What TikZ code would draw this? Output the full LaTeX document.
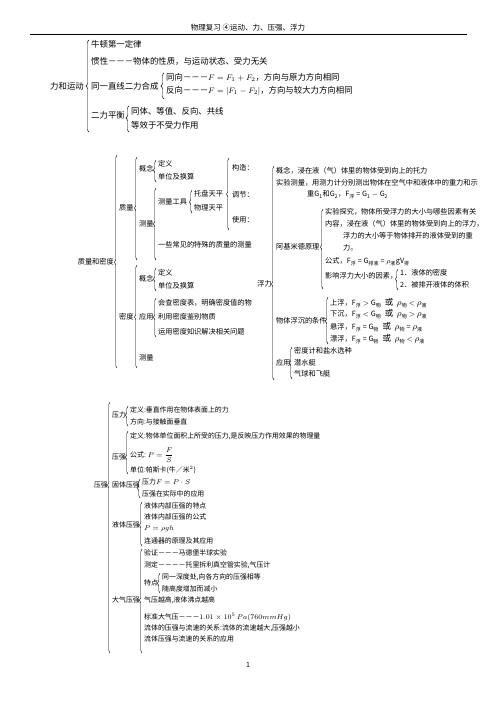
\documentclass[tikz,border=0pt]{standalone}
\usepackage[no-math]{fontspec}
\setmainfont{Noto Sans CJK SC}
\usetikzlibrary{decorations.pathreplacing}
\tikzset{
  lbl/.style={anchor=west,inner sep=0pt,font=\fontsize{7.2}{8}\selectfont},
  lblbig/.style={lbl,font=\fontsize{8.4}{10}\selectfont},
  lblsm/.style={lbl,font=\fontsize{6.9}{8}\selectfont},
  brc/.style={decorate,line width=0.45pt},
}
\def\mybrace#1#2#3#4#5{
  % 1: x
  % 2: y top
  % 3: y bottom
  % 4: y tip
  % 5: amplitude
  \pgfmathsetmacro\braceasp{(#3-#4)/(#3-#2)}
  \draw[brc,decoration={brace,amplitude=#5,aspect=\braceasp}] (#1,#3) -- (#1,#2);
}
\def\rhosub#1{{\fontsize{9.5}{9}\selectfont$\rho$}\textsubscript{#1}}
\def\huo{{\fontsize{8.5}{9}\selectfont 或}}
\begin{document}
\begin{tikzpicture}[x=1pt,y=-1pt]
  \useasboundingbox (0,0) rectangle (496,702);
  % head line
  \node[font=\fontsize{7.5}{8}\selectfont] (title) at (248,28) {物理复习 ④运动、力、压强、浮力};
  \draw[line width=0.8pt] (30,34) -- (467,34);

  % force and motion
  \node[lblbig,anchor=east] (motion) at (84,86) {力和运动};
  \mybrace{89}{40}{132}{86}{3pt}
  \node[lblbig] (newton) at (91,44) {牛顿第一定律};
  \node[lblbig] (inertia) at (91,61) {惯性－－－物体的性质，与运动状态、受力无关};
  \node[lblbig] (combine) at (91,86) {同一直线二力合成};
  \mybrace{164}{73}{99}{86}{3pt}
  \node[lblbig] (same) at (166,77) {同向－－－$F=F_1+F_2$，方向与原力方向相同};
  \node[lblbig] (oppo) at (166,91) {反向－－－$F=|F_1-F_2|$，方向与较大力方向相同};
  \node[lblbig] (balance) at (91,115) {二力平衡};
  \mybrace{129}{106}{132}{118}{3pt}
  \node[lblbig] (bal1) at (131,111) {同体、等值、反向、共线};
  \node[lblbig] (bal2) at (131,125) {等效于不受力作用};

  % mass and density
  \node[lbl,anchor=east] (massdens) at (114,262) {质量和密度};
  \mybrace{117}{155}{368}{262}{2.5pt}
  \node[lbl] (mass) at (119,208) {质量};
  \mybrace{137}{157}{260}{208}{2.5pt}
  \node[lbl] (mconcept) at (139,169) {概念};
  \mybrace{156}{160}{182}{170}{2.5pt}
  \node[lbl] (mdef) at (158,164) {定义};
  \node[lbl] (munit) at (158,177) {单位及换算};
  \node[lbl] (mmeasure) at (139,224) {测量};
  \mybrace{156}{188}{260}{224}{2.5pt}
  \node[lbl] (mtool) at (158,202) {测量工具};
  \mybrace{192}{190}{213}{202}{2.5pt}
  \node[lbl] (tray) at (194,194) {托盘天平};
  \node[lbl] (phys) at (194,208) {物理天平};
  \mybrace{229}{158}{230}{194}{2.5pt}
  \node[lbl] (build) at (232,168) {构造：};
  \node[lbl] (adjust) at (232,195) {调节：};
  \node[lbl] (useit) at (232,220) {使用：};
  \node[lbl] (special) at (158,245) {一些常见的特殊的质量的测量};
  \node[lbl] (dens) at (119,317) {密度};
  \mybrace{137}{265}{368}{317}{2.5pt}
  \node[lbl] (dconcept) at (139,279) {概念};
  \mybrace{156}{268}{291}{279}{2.5pt}
  \node[lbl] (ddef) at (158,273) {定义};
  \node[lbl] (dunit) at (158,286) {单位及换算};
  \node[lbl] (dapply) at (139,317) {应用};
  \mybrace{156}{298}{337}{317}{2.5pt}
  \node[lbl] (dapp1) at (158,303) {会查密度表，明确密度值的物};
  \node[lbl] (dapp2) at (158,317) {利用密度鉴别物质};
  \node[lbl] (dapp3) at (158,332) {运用密度知识解决相关问题};
  \node[lbl] (dmeasure) at (139,358) {测量};

  % buoyancy
  \node[lbl,anchor=east] (buoy) at (272,284) {浮力};
  \mybrace{274}{166}{380}{284}{2.5pt}
  \node[lbl] (bconcept) at (276,171) {概念，浸在液（气）体里的物体受到向上的托力};
  \node[lbl] (bexp) at (276,183) {实验测量，用测力计分别测出物体在空气中和液体中的重力和示};
  \node[lbl] (bexp2) at (307,195) {重G\textsubscript{1}和G\textsubscript{2}，F\textsubscript{浮} = G\textsubscript{1} $-$ G\textsubscript{2}};
  \node[lbl] (archi) at (276,247) {阿基米德原理};
  \mybrace{323}{209}{289}{247}{2.5pt}
  \node[lbl] (a1) at (325,212) {实验探究，物体所受浮力的大小与哪些因素有关};
  \node[lbl] (a2) at (325,224) {内容，浸在液（气）体里的物体受到向上的浮力，};
  \node[lbl] (a3) at (343,236) {浮力的大小等于物体排开的液体受到的重};
  \node[lbl] (a4) at (343,248) {力。};
  \node[lbl] (a5) at (325,262) {公式，F\textsubscript{浮} = G\textsubscript{排液} = $\rho$\textsubscript{液}gV\textsubscript{排}};
  \node[lbl] (factor) at (325,276) {影响浮力大小的因素，};
  \mybrace{398}{269}{290}{279}{2.5pt}
  \node[lbl] (f1) at (400,273) {1．液体的密度};
  \node[lbl] (f2) at (400,285) {2．被排开液体的体积};
  \node[lbl] (float) at (276,321) {物体浮沉的条件};
  \mybrace{328}{297}{344}{321}{2.5pt}
  \node[lbl] (fl1) at (330,303) {上浮，F\textsubscript{浮} $>$ G\textsubscript{物}\enspace\huo\enspace\rhosub{物} $<$ \rhosub{液}};
  \node[lbl] (fl2) at (330,314) {下沉，F\textsubscript{浮} $<$ G\textsubscript{物}\enspace\huo\enspace\rhosub{物} $>$ \rhosub{液}};
  \node[lbl] (fl3) at (330,327) {悬浮，F\textsubscript{浮} = G\textsubscript{物}\enspace\huo\enspace\rhosub{物} = \rhosub{液}};
  \node[lbl] (fl4) at (330,339) {漂浮，F\textsubscript{浮} = G\textsubscript{物}\enspace\huo\enspace\rhosub{物} $<$ \rhosub{液}};
  \node[lbl] (bapply) at (276,363) {应用};
  \mybrace{292}{347}{379}{363}{2.5pt}
  \node[lbl] (ba1) at (294,351) {密度计和盐水选种};
  \node[lbl] (ba2) at (294,363) {潜水艇};
  \node[lbl] (ba3) at (294,374) {气球和飞艇};

  % pressure
  \node[lblsm,anchor=east] (press) at (108,485) {压强};
  \mybrace{110}{402}{653}{485}{2.5pt}
  \node[lblsm] (force) at (112,415) {压力};
  \mybrace{128}{406}{426}{415}{2.5pt}
  \node[lblsm] (fdef) at (130,410) {定义:垂直作用在物体表面上的力};
  \node[lblsm] (fdir) at (130,422) {方向:与接触面垂直};
  \node[lblsm] (pr) at (112,457) {压强};
  \mybrace{128}{431}{474}{457}{2.5pt}
  \node[lblsm] (prdef) at (130,436) {定义:物体单位面积上所受的压力,是反映压力作用效果的物理量};
  \node[lblsm] (prform) at (130,455) {公式: $\displaystyle P=\frac{F}{S}$};
  \node[lblsm] (prunit) at (130,470) {单位:帕斯卡(牛／米$^2$)};
  \node[lblsm] (solid) at (112,485) {固体压强};
  \mybrace{140}{479}{498}{488}{2.5pt}
  \node[lblsm] (s1) at (142,482) {压力$F=P\cdot S$};
  \node[lblsm] (s2) at (142,494) {压强在实际中的应用};
  \node[lblsm] (liquid) at (112,525) {液体压强};
  \mybrace{142}{502}{546}{525}{2.5pt}
  \node[lblsm] (l1) at (144,506) {液体内部压强的特点};
  \node[lblsm] (l2) at (144,517) {液体内部压强的公式};
  \node[lblsm] (l3) at (144,529) {$P=\rho gh$};
  \node[lblsm] (l4) at (144,541) {连通器的原理及其应用};
  \node[lblsm] (air) at (112,600) {大气压强};
  \mybrace{142}{549}{653}{600}{2.5pt}
  \node[lblsm] (air1) at (144,553) {验证－－－马德堡半球实验};
  \node[lblsm] (air2) at (144,565) {测定－－－－托里拆利真空管实验,气压计};
  \node[lblsm] (pt) at (144,583) {特点};
  \mybrace{160}{573}{593}{583}{2.5pt}
  \node[lblsm] (pt1) at (162,577) {同一深度处,向各方向的压强相等};
  \node[lblsm] (pt2) at (162,589) {随高度增加而减小};
  \node[lblsm] (air3) at (144,600) {气压越高,液体沸点越高};
  \node[lblsm] (air4) at (144,617) {标准大气压－－－$1.01\times10^5\,Pa(760mmHg)$};
  \node[lblsm] (air5) at (144,628) {流体的压强与流速的关系:流体的流速越大,压强越小};
  \node[lblsm] (air6) at (144,639) {流体压强与流速的关系的应用};
  \node[font=\fontsize{7}{8}\selectfont] (pagenum) at (248,665) {1};
\end{tikzpicture}
\end{document}
